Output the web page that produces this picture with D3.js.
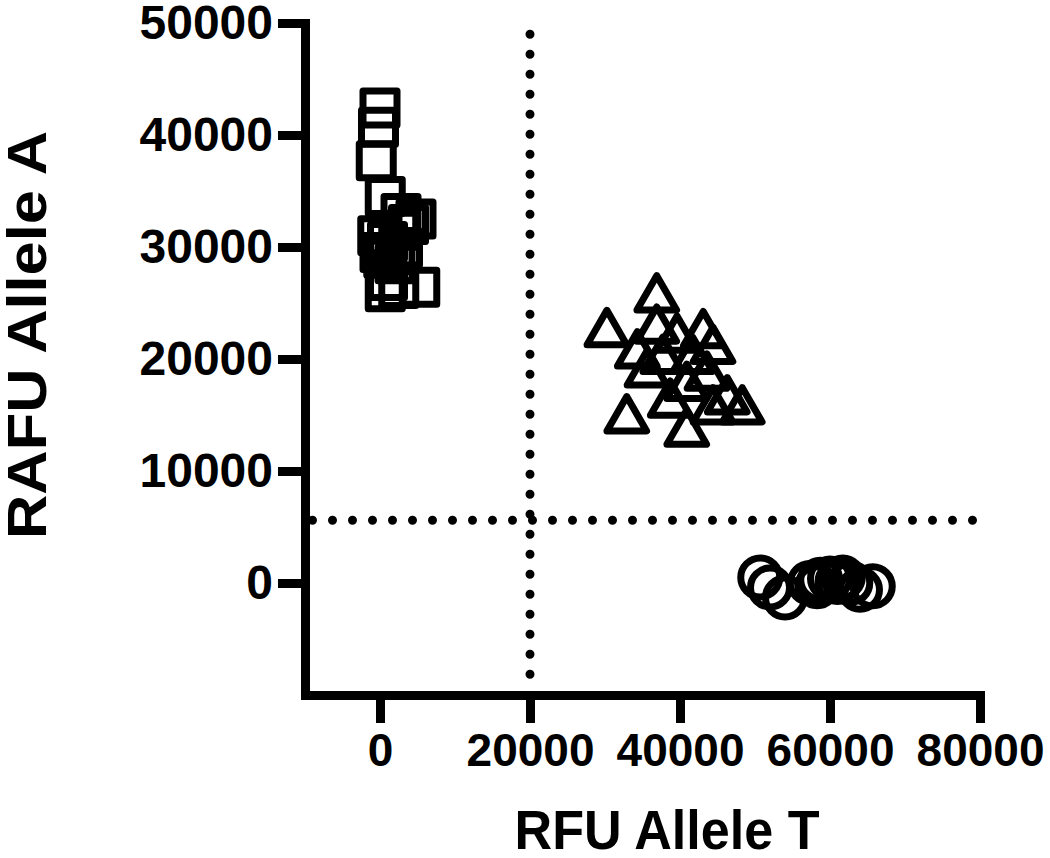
<!DOCTYPE html>
<html>
<head>
<meta charset="utf-8">
<script src="https://cdn.jsdelivr.net/npm/d3@7"></script>
<style>
  html, body { margin: 0; padding: 0; background: #fff; }
  svg { display: block; }
  text { font-family: "Liberation Sans", Arial, Helvetica, sans-serif; font-weight: bold; fill: #000; }
</style>
</head>
<body>
<script>
// ---- data ----
const xTicks = [0, 20000, 40000, 60000, 80000];
const yTicks = [0, 10000, 20000, 30000, 40000, 50000];
const xTitle = "RFU Allele T";
const yTitle = "RAFU Allele A";
const xCutoff = 20000;   // vertical dotted line
const yCutoff = 5600;    // horizontal dotted line

// squares: allele A (x = RFU T, y = RAFU A)
const squaresX = [0, -200, -500, 700, 2800, 3800, 4800, 2500, -300, 1000, 3000, 500, 2000, 1000, 5300, 700, 2500, 0];
const squaresY = [42400, 40700, 37700, 34500, 33000, 32000, 32500, 31500, 31000, 30500, 29900, 29000, 28500, 27000, 26400, 26000, 26300, 29500];

// triangles: heterozygous
const trianglesX = [36900, 30250, 32900, 43100, 36900, 39600, 34300, 44400, 37700, 40900, 43600, 46300, 48300, 40900, 38700, 44400, 35600, 41700];
const trianglesY = [25400, 22300, 14600, 22200, 22600, 21800, 20400, 20800, 19900, 17500, 18400, 16300, 15400, 13400, 16000, 15400, 18700, 19900];

// circles: allele T
const circlesX = [50700, 52000, 54000, 57300, 58700, 60000, 61000, 62700, 64000, 65700, 58300, 61700];
const circlesY = [500, -400, -1300, 0, 300, 400, 100, 0, -600, -300, -300, 500];

// ---- layout ----
const W = 1050, H = 858;
const svg = d3.select("body").append("svg").attr("width", W).attr("height", H);

const x = d3.scaleLinear().domain([-10000, 80000]).range([305, 980]);
const y = d3.scaleLinear().domain([-10000, 50000]).range([695, 23]);

const AXW = 9;

// dotted threshold lines
svg.append("line")
  .attr("x1", x(xCutoff)).attr("x2", x(xCutoff))
  .attr("y1", y(49000)).attr("y2", y(-9000))
  .attr("stroke", "#000").attr("stroke-width", 9)
  .attr("stroke-linecap", "round").attr("stroke-dasharray", "0 20");
svg.append("line")
  .attr("x1", x(-9000)).attr("x2", x(80600))
  .attr("y1", y(yCutoff)).attr("y2", y(yCutoff))
  .attr("stroke", "#000").attr("stroke-width", 9)
  .attr("stroke-linecap", "round").attr("stroke-dasharray", "0 20");

// axes
const gx = svg.append("g").attr("transform", `translate(0,${y(-10000)})`)
  .call(d3.axisBottom(x).tickValues(xTicks).tickFormat(d3.format("d")).tickSize(28).tickSizeOuter(0).tickPadding(10));
const gy = svg.append("g").attr("transform", `translate(${x(-10000)},0)`)
  .call(d3.axisLeft(y).tickValues(yTicks).tickFormat(d3.format("d")).tickSize(27).tickSizeOuter(0).tickPadding(5));

[gx, gy].forEach(g => {
  g.select(".domain").attr("stroke", "#000").attr("stroke-width", AXW).attr("stroke-linecap", "square");
  g.selectAll(".tick line").attr("stroke", "#000").attr("stroke-width", AXW);
  g.selectAll(".tick text").attr("fill", "#000")
    .style("font-family", '"Liberation Sans", Arial, sans-serif').style("font-weight", "bold");
});
gx.selectAll(".tick text").style("font-size", "46px");
gy.selectAll(".tick text").style("font-size", "48px");

// axis titles
svg.append("text")
  .attr("x", 667).attr("y", 849)
  .attr("text-anchor", "middle")
  .style("font-size", "55px")
  .attr("textLength", 305).attr("lengthAdjust", "spacingAndGlyphs")
  .text(xTitle);
svg.append("text")
  .attr("transform", `translate(46,335) rotate(-90)`)
  .attr("text-anchor", "middle")
  .style("font-size", "55px")
  .attr("textLength", 408).attr("lengthAdjust", "spacingAndGlyphs")
  .text(yTitle);

// markers
function drawSeries(xs, ys, type, size) {
  const sym = d3.symbol().type(type).size(size);
  svg.append("g").selectAll("path")
    .data(xs.map((v, i) => [v, ys[i]]))
    .join("path")
    .attr("d", sym)
    .attr("transform", d => `translate(${x(d[0])},${y(d[1])})`)
    .attr("fill", "none")
    .attr("stroke", "#000")
    .attr("stroke-width", 7)
    .attr("stroke-linejoin", "round");
}
drawSeries(squaresX, squaresY, d3.symbolSquare, 34 * 34);
drawSeries(trianglesX, trianglesY, d3.symbolTriangle, 680);
drawSeries(circlesX, circlesY, d3.symbolCircle, Math.PI * 19.5 * 19.5);
</script>
</body>
</html>
